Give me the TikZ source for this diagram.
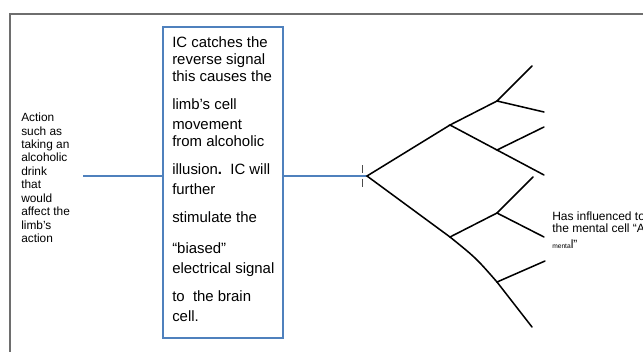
\documentclass[tikz,border=0pt]{standalone}
\usepackage{fontspec}
\setmainfont{Liberation Sans}
\usetikzlibrary{shadows}
\definecolor{signalblue}{RGB}{79,129,189}
\definecolor{framegray}{RGB}{110,110,110}
\tikzset{
  signal/.style={draw=signalblue, line width=1.6pt},
  branch/.style={draw=black, line width=1.15pt, line cap=round},
  boxline/.style={anchor=base west, inner sep=0pt, font=\fontsize{11.2pt}{12.8pt}\selectfont},
  sideline/.style={anchor=base west, inner sep=0pt, font=\fontsize{8.9pt}{10pt}\selectfont},
  noteline/.style={anchor=base west, inner sep=0pt, font=\fontsize{9pt}{10pt}\selectfont},
  icframe/.style={draw=signalblue, line width=1.9pt, fill=white, rectangle,
    minimum width=90pt, minimum height=233.25pt, inner sep=0pt, outer sep=0pt,
    drop shadow={shadow xshift=1pt, shadow yshift=-1pt, opacity=0.25}},
}
\begin{document}
\begin{tikzpicture}[x=0.75pt, y=-0.75pt]
  \useasboundingbox (0,0) rectangle (643,351);
  \clip (0,0) rectangle (643,351);

  % outer frame, open to the right and bottom
  \draw[framegray, line width=0.8pt] (10,360) -- (10,14) -- (660,14);

  % the IC box
  \node[icframe] (icbox) at (223,182.5) {};

  % text inside the box
  \foreach \t/\y in {
    IC catches the/47.5,
    reverse signal/64.5,
    this causes the/81.5,
    limb’s cell/109.5,
    movement/129.5,
    from alcoholic/146.5,
    {illusion\textbf{.}\ \ IC will}/174.5,
    further/194.5,
    stimulate the/222.5,
    “biased”/253.5,
    electrical signal/273.5,
    {to\ \ the brain}/301.5,
    cell./321.5}
    \node[boxline] at (172,\y) {\t};

  % action description on the left
  \foreach \t [count=\i from 0] in {Action, such as, taking an, alcoholic, drink,
      that, would, affect the, limb’s, action}
    \node[sideline] at (21,{121.6+13.44*\i}) {\t};
  \coordinate (actionend) at (83,176);

  % tree of branches
  \coordinate (root) at (367,176);
  \coordinate (A) at (450,125);
  \coordinate (B) at (450,237);
  \coordinate (A1) at (497,101);
  \coordinate (A2) at (497,150);
  \coordinate (B1) at (497,213);
  \coordinate (B2) at (497,282);
  \coordinate (a11) at (532,66);
  \coordinate (a12) at (544,112);
  \coordinate (a21) at (544,127);
  \coordinate (a22) at (544,175);
  \coordinate (b11) at (533,177);
  \coordinate (b12) at (544,237);
  \coordinate (b21) at (545,261);
  \coordinate (b22) at (532,327);

  % signal lines
  \draw[signal] (actionend) -- (actionend -| icbox.west);
  \draw[signal] (root -| icbox.east) -- (root);

  % small tick marks at the junction
  \coordinate (tick) at (362,176);
  \draw[black!70, line width=0.5pt] ([yshift=8]tick) -- ([yshift=2]tick)
                                    ([yshift=-2]tick) -- ([yshift=-8]tick);

  \draw[branch] (A) -- (root) -- (B);
  \draw[branch] (A1) -- (A) -- (A2);
  \draw[branch] (a11) -- (A1) -- (a12);
  \draw[branch] (a21) -- (A2) -- (a22);
  \draw[branch] (B1) -- (B) .. controls (476,258) .. (B2);
  \draw[branch] (b11) -- (B1) -- (b12);
  \draw[branch] (b21) -- (B2) -- (b22);

  % note on the right
  \node[noteline] (note1) at (552,220) {Has influenced to};
  \node[noteline] (note2) at (552,232.5) {the mental cell “A};
  \node[noteline] (note3) at (552,248) {{\fontsize{5pt}{6pt}\selectfont menta}l”};
\end{tikzpicture}
\end{document}
